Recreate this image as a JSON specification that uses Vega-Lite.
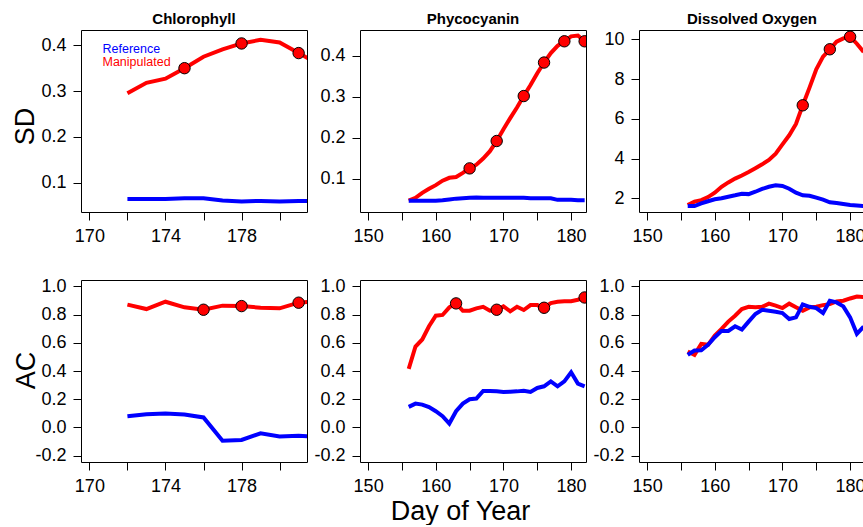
{
  "$schema": "https://vega.github.io/schema/vega-lite/v6.json",
  "padding": {"left": 10, "top": 11, "right": 0, "bottom": 0},
  "background": "white",
  "columns": 3,
  "spacing": {"row": 68, "column": 53},
  "bounds": "flush",
  "resolve": {"scale": {"color": "independent", "x": "independent", "y": "independent"}, "legend": {"color": "independent"}},
  "config": {
    "font": "Liberation Sans",
    "view": {"stroke": "black", "strokeWidth": 1},
    "axis": {"domain": false, "grid": false, "ticks": true, "tickSize": 8, "tickColor": "black", "tickWidth": 1,
      "labelColor": "black", "labelFontSize": 18, "labelPadding": 7, "labelFont": "Liberation Sans",
      "titleFont": "Liberation Sans", "titleFontSize": 27, "titleFontWeight": "normal", "titleColor": "black",
      "labelOverlap": false, "labelFlush": false, "labelBound": false},
    "title": {"font": "Liberation Sans", "fontSize": 15, "fontWeight": "bold", "color": "black", "offset": 3, "baseline": "alphabetic", "anchor": "middle"}
  },
  "datasets": {
    "d": [
      {"p":"c1","d":172,"ref":0.064,"man":0.295},
      {"p":"c1","d":173,"ref":0.064,"man":0.318},
      {"p":"c1","d":174,"ref":0.064,"man":0.327},
      {"p":"c1","d":175,"ref":0.066,"man":0.350,"pt":1},
      {"p":"c1","d":176,"ref":0.066,"man":0.375},
      {"p":"c1","d":177,"ref":0.061,"man":0.391},
      {"p":"c1","d":178,"ref":0.059,"man":0.404,"pt":1},
      {"p":"c1","d":179,"ref":0.060,"man":0.412},
      {"p":"c1","d":180,"ref":0.059,"man":0.406},
      {"p":"c1","d":181,"ref":0.060,"man":0.383,"pt":1},
      {"p":"c1","d":182,"ref":0.059,"man":0.360},

      {"p":"p1","d":156,"ref":0.046,"man":0.046},
      {"p":"p1","d":157,"ref":0.046,"man":0.053},
      {"p":"p1","d":158,"ref":0.046,"man":0.065},
      {"p":"p1","d":159,"ref":0.046,"man":0.075},
      {"p":"p1","d":160,"ref":0.046,"man":0.084},
      {"p":"p1","d":161,"ref":0.047,"man":0.095},
      {"p":"p1","d":162,"ref":0.049,"man":0.102},
      {"p":"p1","d":163,"ref":0.051,"man":0.104},
      {"p":"p1","d":164,"ref":0.052,"man":0.114},
      {"p":"p1","d":165,"ref":0.053,"man":0.125,"pt":1},
      {"p":"p1","d":166,"ref":0.054,"man":0.134},
      {"p":"p1","d":167,"ref":0.053,"man":0.149},
      {"p":"p1","d":168,"ref":0.053,"man":0.167},
      {"p":"p1","d":169,"ref":0.053,"man":0.192,"pt":1},
      {"p":"p1","d":170,"ref":0.053,"man":0.221},
      {"p":"p1","d":171,"ref":0.053,"man":0.248},
      {"p":"p1","d":172,"ref":0.053,"man":0.274},
      {"p":"p1","d":173,"ref":0.053,"man":0.302,"pt":1},
      {"p":"p1","d":174,"ref":0.052,"man":0.329},
      {"p":"p1","d":175,"ref":0.052,"man":0.358},
      {"p":"p1","d":176,"ref":0.052,"man":0.384,"pt":1},
      {"p":"p1","d":177,"ref":0.052,"man":0.407},
      {"p":"p1","d":178,"ref":0.048,"man":0.425},
      {"p":"p1","d":179,"ref":0.048,"man":0.436,"pt":1},
      {"p":"p1","d":180,"ref":0.048,"man":0.448},
      {"p":"p1","d":181,"ref":0.047,"man":0.450},
      {"p":"p1","d":182,"ref":0.047,"man":0.436,"pt":1},

      {"p":"d1","d":156,"ref":1.61,"man":1.66},
      {"p":"d1","d":157,"ref":1.61,"man":1.83},
      {"p":"d1","d":158,"ref":1.74,"man":1.91},
      {"p":"d1","d":159,"ref":1.85,"man":2.06},
      {"p":"d1","d":160,"ref":1.95,"man":2.28},
      {"p":"d1","d":161,"ref":2.00,"man":2.58},
      {"p":"d1","d":162,"ref":2.08,"man":2.80},
      {"p":"d1","d":163,"ref":2.15,"man":2.99},
      {"p":"d1","d":164,"ref":2.23,"man":3.15},
      {"p":"d1","d":165,"ref":2.21,"man":3.32},
      {"p":"d1","d":166,"ref":2.33,"man":3.51},
      {"p":"d1","d":167,"ref":2.47,"man":3.71},
      {"p":"d1","d":168,"ref":2.58,"man":3.93},
      {"p":"d1","d":169,"ref":2.65,"man":4.24},
      {"p":"d1","d":170,"ref":2.62,"man":4.71},
      {"p":"d1","d":171,"ref":2.48,"man":5.17},
      {"p":"d1","d":172,"ref":2.28,"man":5.74},
      {"p":"d1","d":173,"ref":2.15,"man":6.68,"pt":1},
      {"p":"d1","d":174,"ref":2.13,"man":7.57},
      {"p":"d1","d":175,"ref":2.03,"man":8.49},
      {"p":"d1","d":176,"ref":1.93,"man":9.13},
      {"p":"d1","d":177,"ref":1.80,"man":9.50,"pt":1},
      {"p":"d1","d":178,"ref":1.76,"man":9.88},
      {"p":"d1","d":179,"ref":1.71,"man":10.05},
      {"p":"d1","d":180,"ref":1.66,"man":10.13,"pt":1},
      {"p":"d1","d":181,"ref":1.64,"man":9.78},
      {"p":"d1","d":182,"ref":1.61,"man":9.36},

      {"p":"c2","d":172,"ref":0.080,"man":0.871},
      {"p":"c2","d":173,"ref":0.094,"man":0.840},
      {"p":"c2","d":174,"ref":0.099,"man":0.892},
      {"p":"c2","d":175,"ref":0.092,"man":0.852},
      {"p":"c2","d":176,"ref":0.071,"man":0.835,"pt":1},
      {"p":"c2","d":177,"ref":-0.094,"man":0.864},
      {"p":"c2","d":178,"ref":-0.089,"man":0.861,"pt":1},
      {"p":"c2","d":179,"ref":-0.042,"man":0.849},
      {"p":"c2","d":180,"ref":-0.064,"man":0.845},
      {"p":"c2","d":181,"ref":-0.059,"man":0.885,"pt":1},
      {"p":"c2","d":182,"ref":-0.066,"man":0.896},

      {"p":"p2","d":156,"ref":0.146,"man":0.416},
      {"p":"p2","d":157,"ref":0.169,"man":0.574},
      {"p":"p2","d":158,"ref":0.162,"man":0.624},
      {"p":"p2","d":159,"ref":0.144,"man":0.718},
      {"p":"p2","d":160,"ref":0.115,"man":0.793},
      {"p":"p2","d":161,"ref":0.080,"man":0.798},
      {"p":"p2","d":162,"ref":0.028,"man":0.852},
      {"p":"p2","d":163,"ref":0.115,"man":0.880,"pt":1},
      {"p":"p2","d":164,"ref":0.169,"man":0.828},
      {"p":"p2","d":165,"ref":0.200,"man":0.828},
      {"p":"p2","d":166,"ref":0.205,"man":0.845},
      {"p":"p2","d":167,"ref":0.259,"man":0.856},
      {"p":"p2","d":168,"ref":0.259,"man":0.828},
      {"p":"p2","d":169,"ref":0.256,"man":0.835,"pt":1},
      {"p":"p2","d":170,"ref":0.252,"man":0.859},
      {"p":"p2","d":171,"ref":0.254,"man":0.824},
      {"p":"p2","d":172,"ref":0.256,"man":0.856},
      {"p":"p2","d":173,"ref":0.261,"man":0.833},
      {"p":"p2","d":174,"ref":0.252,"man":0.868},
      {"p":"p2","d":175,"ref":0.280,"man":0.868},
      {"p":"p2","d":176,"ref":0.292,"man":0.849,"pt":1},
      {"p":"p2","d":177,"ref":0.327,"man":0.882},
      {"p":"p2","d":178,"ref":0.292,"man":0.892},
      {"p":"p2","d":179,"ref":0.327,"man":0.896},
      {"p":"p2","d":180,"ref":0.391,"man":0.896},
      {"p":"p2","d":181,"ref":0.311,"man":0.906},
      {"p":"p2","d":182,"ref":0.292,"man":0.922,"pt":1},

      {"p":"d2","d":156,"ref":0.515,"man":0.539},
      {"p":"d2","d":157,"ref":0.546,"man":0.515},
      {"p":"d2","d":158,"ref":0.548,"man":0.593},
      {"p":"d2","d":159,"ref":0.586,"man":0.586},
      {"p":"d2","d":160,"ref":0.640,"man":0.652},
      {"p":"d2","d":161,"ref":0.685,"man":0.699},
      {"p":"d2","d":162,"ref":0.685,"man":0.751},
      {"p":"d2","d":163,"ref":0.718,"man":0.793},
      {"p":"d2","d":164,"ref":0.694,"man":0.840},
      {"p":"d2","d":165,"ref":0.751,"man":0.856},
      {"p":"d2","d":166,"ref":0.805,"man":0.852},
      {"p":"d2","d":167,"ref":0.835,"man":0.856},
      {"p":"d2","d":168,"ref":0.828,"man":0.878},
      {"p":"d2","d":169,"ref":0.821,"man":0.864},
      {"p":"d2","d":170,"ref":0.812,"man":0.847},
      {"p":"d2","d":171,"ref":0.769,"man":0.878},
      {"p":"d2","d":172,"ref":0.781,"man":0.852},
      {"p":"d2","d":173,"ref":0.873,"man":0.828},
      {"p":"d2","d":174,"ref":0.856,"man":0.852},
      {"p":"d2","d":175,"ref":0.847,"man":0.856},
      {"p":"d2","d":176,"ref":0.812,"man":0.868},
      {"p":"d2","d":177,"ref":0.899,"man":0.875},
      {"p":"d2","d":178,"ref":0.887,"man":0.894},
      {"p":"d2","d":179,"ref":0.859,"man":0.899},
      {"p":"d2","d":180,"ref":0.781,"man":0.915},
      {"p":"d2","d":181,"ref":0.664,"man":0.929},
      {"p":"d2","d":182,"ref":0.715,"man":0.925}
    ]
  },
  "concat": [
    {
      "width": 226, "height": 182,
      "title": "Chlorophyll",
      "data": {"name": "d"},
      "transform": [{"filter": "datum.p == 'c1'"}, {"fold": ["man", "ref"], "as": ["s", "v"]}],
      "encoding": {
        "x": {"field": "d", "type": "quantitative", "scale": {"domain": [169.56, 181.44], "nice": false, "zero": false},
          "axis": {"title": null, "labelOverlap": false, "values": [170, 172, 174, 176, 178, 180], "labelExpr": "datum.value % 4 == 2 ? datum.label : ''"}},
        "y": {"field": "v", "type": "quantitative", "scale": {"domain": [0.0358, 0.4334], "nice": false, "zero": false},
          "axis": {"labelOverlap": false, "values": [0.1, 0.2, 0.3, 0.4], "format": ".1f", "title": "SD", "titleAngle": 270, "titleBaseline": "alphabetic", "titleAlign": "center", "titleX": -48, "titleY": 96}}
      },
      "layer": [
        {
          "mark": {"type": "line", "strokeWidth": 4, "clip": true},
          "encoding": {
            "color": {"field": "s", "type": "nominal", "scale": {"domain": ["ref", "man"], "range": ["#0000ff", "#ff0000"]},
              "legend": {"title": null, "orient": "none", "legendX": 9, "legendY": 13, "symbolOpacity": 0, "symbolSize": 0, "symbolStrokeWidth": 0,
                "labelOffset": 0, "labelFontSize": 12.5, "labelFont": "Liberation Sans", "rowPadding": 0, "padding": 0,
                "labelExpr": "datum.label == 'ref' ? 'Reference' : 'Manipulated'",
                "encode": {"labels": {"update": {"fill": {"signal": "datum.value == 'ref' ? '#0000ff' : '#ff0000'"}}}}}}
          }
        },
        {
          "transform": [{"filter": "datum.pt == 1 && datum.s == 'man'"}],
          "mark": {"type": "circle", "size": 130, "fill": "#ff0000", "stroke": "black", "strokeWidth": 1, "opacity": 1, "clip": true}
        }
      ]
    },
    {
      "width": 226, "height": 182,
      "title": "Phycocyanin",
      "data": {"name": "d"},
      "transform": [{"filter": "datum.p == 'p1'"}, {"fold": ["man", "ref"], "as": ["s", "v"]}],
      "encoding": {
        "x": {"field": "d", "type": "quantitative", "scale": {"domain": [148.8, 182.2], "nice": false, "zero": false},
          "axis": {"title": null, "labelOverlap": false, "values": [150, 155, 160, 165, 170, 175, 180], "labelExpr": "datum.value % 10 == 0 ? datum.label : ''"}},
        "y": {"field": "v", "type": "quantitative", "scale": {"domain": [0.0183, 0.4636], "nice": false, "zero": false},
          "axis": {"labelOverlap": false, "values": [0.1, 0.2, 0.3, 0.4], "format": ".1f", "title": null}}
      },
      "layer": [
        {
          "mark": {"type": "line", "strokeWidth": 4, "clip": true},
          "encoding": {"color": {"field": "s", "type": "nominal", "scale": {"domain": ["ref", "man"], "range": ["#0000ff", "#ff0000"]}, "legend": null}}
        },
        {
          "transform": [{"filter": "datum.pt == 1 && datum.s == 'man'"}],
          "mark": {"type": "circle", "size": 130, "fill": "#ff0000", "stroke": "black", "strokeWidth": 1, "opacity": 1, "clip": true}
        }
      ]
    },
    {
      "width": 226, "height": 182,
      "title": "Dissolved Oxygen",
      "data": {"name": "d"},
      "transform": [{"filter": "datum.p == 'd1'"}, {"fold": ["man", "ref"], "as": ["s", "v"]}],
      "encoding": {
        "x": {"field": "d", "type": "quantitative", "scale": {"domain": [148.8, 182.2], "nice": false, "zero": false},
          "axis": {"title": null, "labelOverlap": false, "values": [150, 155, 160, 165, 170, 175, 180], "labelExpr": "datum.value % 10 == 0 ? datum.label : ''"}},
        "y": {"field": "v", "type": "quantitative", "scale": {"domain": [1.31, 10.47], "nice": false, "zero": false},
          "axis": {"labelOverlap": false, "values": [2, 4, 6, 8, 10], "title": null}}
      },
      "layer": [
        {
          "mark": {"type": "line", "strokeWidth": 4, "clip": true},
          "encoding": {"color": {"field": "s", "type": "nominal", "scale": {"domain": ["ref", "man"], "range": ["#0000ff", "#ff0000"]}, "legend": null}}
        },
        {
          "transform": [{"filter": "datum.pt == 1 && datum.s == 'man'"}],
          "mark": {"type": "circle", "size": 130, "fill": "#ff0000", "stroke": "black", "strokeWidth": 1, "opacity": 1, "clip": true}
        }
      ]
    },
    {
      "width": 226, "height": 182,
      "data": {"name": "d"},
      "transform": [{"filter": "datum.p == 'c2'"}, {"fold": ["man", "ref"], "as": ["s", "v"]}],
      "encoding": {
        "x": {"field": "d", "type": "quantitative", "scale": {"domain": [169.56, 181.44], "nice": false, "zero": false},
          "axis": {"title": null, "labelOverlap": false, "values": [170, 172, 174, 176, 178, 180], "labelExpr": "datum.value % 4 == 2 ? datum.label : ''"}},
        "y": {"field": "v", "type": "quantitative", "scale": {"domain": [-0.245, 1.046], "nice": false, "zero": false},
          "axis": {"labelOverlap": false, "values": [-0.2, 0, 0.2, 0.4, 0.6, 0.8, 1.0], "labelExpr": "replace(format(datum.value, '.1f'), '\u2212', '-')",
            "title": "AC", "titleAngle": 270, "titleBaseline": "alphabetic", "titleAlign": "center", "titleX": -47, "titleY": 90}}
      },
      "layer": [
        {
          "mark": {"type": "line", "strokeWidth": 4, "clip": true},
          "encoding": {"color": {"field": "s", "type": "nominal", "scale": {"domain": ["ref", "man"], "range": ["#0000ff", "#ff0000"]}, "legend": null}}
        },
        {
          "transform": [{"filter": "datum.pt == 1 && datum.s == 'man'"}],
          "mark": {"type": "circle", "size": 130, "fill": "#ff0000", "stroke": "black", "strokeWidth": 1, "opacity": 1, "clip": true}
        }
      ]
    },
    {
      "width": 226, "height": 182,
      "data": {"name": "d"},
      "transform": [{"filter": "datum.p == 'p2'"}, {"fold": ["man", "ref"], "as": ["s", "v"]}],
      "encoding": {
        "x": {"field": "d", "type": "quantitative", "scale": {"domain": [148.8, 182.2], "nice": false, "zero": false},
          "axis": {"title": "Day of Year", "titleX": 100, "titleY": 57, "titleBaseline": "alphabetic", "titleAlign": "center", "labelOverlap": false,
            "values": [150, 155, 160, 165, 170, 175, 180], "labelExpr": "datum.value % 10 == 0 ? datum.label : ''"}},
        "y": {"field": "v", "type": "quantitative", "scale": {"domain": [-0.245, 1.046], "nice": false, "zero": false},
          "axis": {"labelOverlap": false, "values": [-0.2, 0, 0.2, 0.4, 0.6, 0.8, 1.0], "labelExpr": "replace(format(datum.value, '.1f'), '\u2212', '-')", "title": null}}
      },
      "layer": [
        {
          "mark": {"type": "line", "strokeWidth": 4, "clip": true},
          "encoding": {"color": {"field": "s", "type": "nominal", "scale": {"domain": ["ref", "man"], "range": ["#0000ff", "#ff0000"]}, "legend": null}}
        },
        {
          "transform": [{"filter": "datum.pt == 1 && datum.s == 'man'"}],
          "mark": {"type": "circle", "size": 130, "fill": "#ff0000", "stroke": "black", "strokeWidth": 1, "opacity": 1, "clip": true}
        }
      ]
    },
    {
      "width": 226, "height": 182,
      "data": {"name": "d"},
      "transform": [{"filter": "datum.p == 'd2'"}, {"fold": ["man", "ref"], "as": ["s", "v"]}],
      "encoding": {
        "x": {"field": "d", "type": "quantitative", "scale": {"domain": [148.8, 182.2], "nice": false, "zero": false},
          "axis": {"title": null, "labelOverlap": false, "values": [150, 155, 160, 165, 170, 175, 180], "labelExpr": "datum.value % 10 == 0 ? datum.label : ''"}},
        "y": {"field": "v", "type": "quantitative", "scale": {"domain": [-0.245, 1.046], "nice": false, "zero": false},
          "axis": {"labelOverlap": false, "values": [-0.2, 0, 0.2, 0.4, 0.6, 0.8, 1.0], "labelExpr": "replace(format(datum.value, '.1f'), '\u2212', '-')", "title": null}}
      },
      "layer": [
        {
          "mark": {"type": "line", "strokeWidth": 4, "clip": true},
          "encoding": {"color": {"field": "s", "type": "nominal", "scale": {"domain": ["ref", "man"], "range": ["#0000ff", "#ff0000"]}, "legend": null}}
        }
      ]
    }
  ]
}
